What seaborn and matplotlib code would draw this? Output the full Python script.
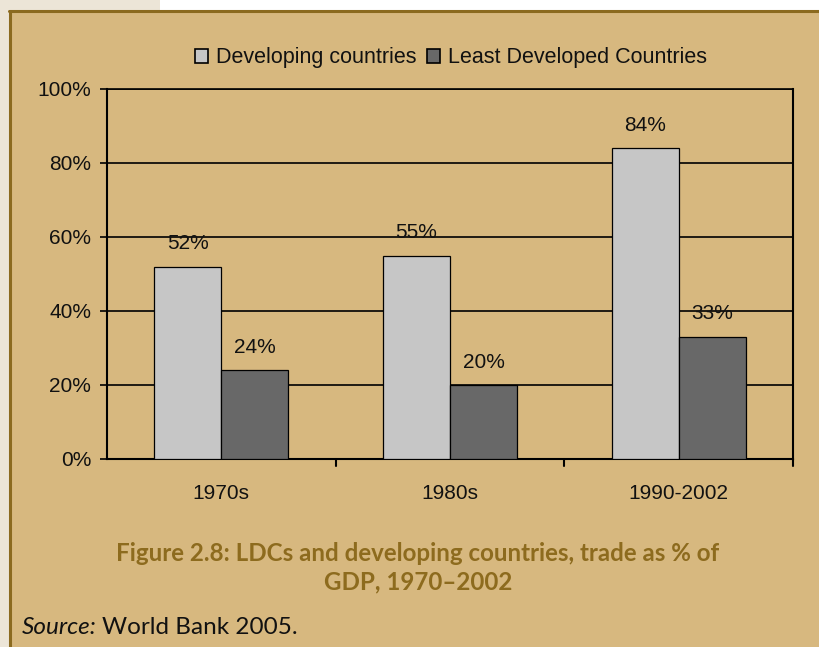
import matplotlib
matplotlib.use("Agg")
import matplotlib.pyplot as plt
import matplotlib.patches as mpatches
from matplotlib.lines import Line2D
import seaborn as sns
import pandas as pd

# Trade as a share of GDP by period
periods = ["1970s", "1980s", "1990-2002"]
developing = [52, 55, 84]
ldc = [24, 20, 33]
series_names = ["Developing countries", "Least Developed Countries"]
y_ticks = [0, 20, 40, 60, 80, 100]
y_tick_labels = ["0%", "20%", "40%", "60%", "80%", "100%"]
caption = "Figure 2.8: LDCs and developing countries, trade as % of\nGDP, 1970\u20132002"

df = pd.DataFrame({
    "period": periods * 2,
    "value": developing + ldc,
    "series": [series_names[0]] * 3 + [series_names[1]] * 3,
})

TAN = "#d7b87f"
BORDER = "#8b6a1f"
CAPTION = "#8d6b1e"
palette = {series_names[0]: "#c6c6c6", series_names[1]: "#686868"}

sns.set_theme(style="white")
plt.rcParams["font.family"] = ["Liberation Sans", "DejaVu Sans"]

W, H = 819, 647
fig = plt.figure(figsize=(W / 100, H / 100), dpi=100)
fig.patch.set_facecolor("white")

def px_rect(x0, y0, x1, y1, **kw):
    # rectangle in pixel coordinates measured from the top-left corner
    fig.patches.append(mpatches.Rectangle(
        (x0 / W, 1 - y1 / H), (x1 - x0) / W, (y1 - y0) / H,
        transform=fig.transFigure, figure=fig, **kw))

# page surround, tan panel and its border
px_rect(0, 0, 160, 11, facecolor="#ece5d7", edgecolor="none", zorder=-3)
px_rect(0, 0, 10, H, facecolor="#ece5d7", edgecolor="none", zorder=-3)
px_rect(10, 11, W + 5, H + 5, facecolor=TAN, edgecolor="none", zorder=-2)
fig.add_artist(Line2D([9.5 / W, 9.5 / W], [0, 1 - 10.5 / H], color=BORDER,
                      lw=2.2, transform=fig.transFigure))
fig.add_artist(Line2D([8.5 / W, 1], [1 - 10.5 / H, 1 - 10.5 / H], color=BORDER,
                      lw=2.2, transform=fig.transFigure))

ax = fig.add_axes([107 / W, 1 - 459 / H, (793 - 107) / W, (459 - 89) / H])
ax.set_facecolor(TAN)

sns.barplot(data=df, x="period", y="value", hue="series", order=periods,
            hue_order=series_names, palette=palette, width=0.586,
            edgecolor="black", linewidth=0.9, saturation=1, ax=ax,
            legend=False, zorder=3)

ax.set_ylim(0, 100)
ax.set_xlim(-0.5, len(periods) - 0.5)
ax.set_yticks(y_ticks)
ax.set_yticklabels(y_tick_labels)
ax.set_xlabel("")
ax.set_ylabel("")
ax.grid(False)
for y in y_ticks[1:]:
    ax.axhline(y, color="black", lw=1.2, zorder=1)

for side in ["left", "bottom", "right", "top"]:
    ax.spines[side].set_color("black")
    ax.spines[side].set_linewidth(1.5)
ax.spines["top"].set_linewidth(1.2)

ax.tick_params(axis="y", direction="out", length=5, width=1.2, color="black",
               labelsize=15, labelcolor="#111111", pad=6.5, left=True)
ax.set_xticks(range(len(periods)))
ax.set_xticklabels(periods)
ax.tick_params(axis="x", length=0, labelsize=15, labelcolor="#111111", pad=18)
# boundary ticks between periods
for b in [0.5, 1.5, 2.5]:
    ax.plot([b, b], [0, -0.019], transform=ax.get_xaxis_transform(),
            color="black", lw=1.5, clip_on=False, zorder=5)

# value labels above the bars
for cont in ax.containers:
    for rect in cont:
        v = rect.get_height()
        ax.annotate(f"{v:.0f}%", (rect.get_x() + rect.get_width() / 2, v),
                    xytext=(0, 16.5), textcoords="offset points",
                    ha="center", va="center", fontsize=15, color="#111111",
                    zorder=6)

handles = [mpatches.Patch(facecolor=palette[s], edgecolor="black", lw=1.2)
           for s in series_names]
fig.legend(handles, series_names, loc="center", bbox_to_anchor=(451 / W, 1 - 58 / H),
           ncol=2, frameon=False, fontsize=15.5, handlelength=0.6, handleheight=0.6,
           handletextpad=0.35, columnspacing=0.5, labelcolor="#111111")

fig.text(418 / W, 1 - 568 / H, caption, ha="center", va="center",
         fontsize=17.4, fontweight="bold", color=CAPTION, linespacing=1.3,
         family=["Liberation Sans Narrow", "Lato", "DejaVu Sans"])

src1 = fig.text(22 / W, 1 - 628 / H, "Source:", ha="left", va="center",
                fontsize=17.5, style="italic", color="#111111",
                family=["Lato", "DejaVu Sans"])
fig.canvas.draw()
bb = src1.get_window_extent()
fig.text((bb.x1 + 5) / W, 1 - 628 / H, "World Bank 2005.", ha="left", va="center",
         fontsize=17.5, color="#111111", family=["Lato", "DejaVu Sans"])

fig.savefig("out.png", dpi=100, facecolor=fig.get_facecolor())
